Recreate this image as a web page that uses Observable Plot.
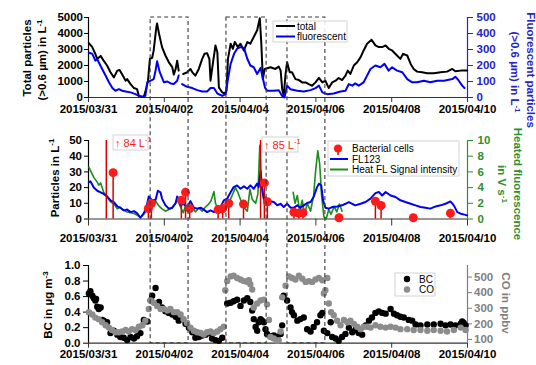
<!DOCTYPE html>
<html><head><meta charset="utf-8">
<script src="https://cdn.jsdelivr.net/npm/d3@7"></script>
<script src="https://cdn.jsdelivr.net/npm/@observablehq/plot@0.6"></script>
<style>
body{margin:0;background:#fff;}
#fig{position:relative;width:536px;height:365px;overflow:hidden;}
#fig svg{position:absolute;left:0;}
</style></head><body><div id="fig"></div>
<script>
// ---------- DATA (time = days since 2015/03/31 00:00) ----------
const tickDays = [0, 2, 4, 6, 8, 10];
const boxSpans = [[1.64, 2.64], [3.64, 4.70], [5.25, 6.25]];

// top panel
const totalSeries = [[0.01,3400],[0.10,3150],[0.18,2730],[0.23,2400],[0.32,2600],[0.40,2300],[0.49,2000],[0.58,1575],[0.67,1260],[0.76,1680],[0.82,1720],[0.89,1430],[0.98,1050],[1.02,1150],[1.11,840],[1.20,590],[1.28,525],[1.33,100],[1.46,40],[1.52,525],[1.57,1050],[1.62,2415],[1.68,2480],[1.72,2940],[1.79,4400],[1.81,4620],[1.86,4000],[1.94,3150],[2.03,2625],[2.12,2200],[2.21,1900],[2.25,1430],[2.30,1785],[2.34,2300],[2.38,1680],[2.44,null],[2.50,1470],[2.60,1575],[2.69,1785],[2.74,1575],[2.82,1365],[2.91,1785],[3.00,2415],[3.06,2730],[3.13,2770],[3.19,2400],[3.22,1050],[3.28,2100],[3.35,3250],[3.40,2830],[3.44,630],[3.53,315],[3.59,250],[3.64,420],[3.68,2415],[3.75,3360],[3.81,3045],[3.86,3465],[3.94,3150],[4.01,3360],[4.10,2940],[4.19,3465],[4.27,3360],[4.36,3780],[4.45,4200],[4.52,4950],[4.56,3360],[4.60,1150],[4.65,1785],[4.80,1890],[4.93,1785],[5.02,1930],[5.07,1680],[5.11,525],[5.15,100],[5.20,1470],[5.24,2205],[5.31,1575],[5.37,1575],[5.46,1150],[5.55,1090],[5.64,945],[5.73,945],[5.81,840],[5.90,735],[5.99,945],[6.08,1220],[6.17,945],[6.25,1050],[6.34,590],[6.43,945],[6.52,1050],[6.60,1220],[6.69,1090],[6.78,1365],[6.84,1680],[6.91,1470],[7.00,2000],[7.09,2205],[7.18,2520],[7.26,2940],[7.35,3360],[7.47,3610],[7.57,3255],[7.66,3150],[7.75,3150],[7.84,3255],[7.92,3045],[8.01,2940],[8.14,2625],[8.23,2415],[8.30,2730],[8.41,2625],[8.50,2100],[8.58,1785],[8.67,1617],[8.80,1575],[8.94,1510],[9.11,1510],[9.29,1575],[9.46,1617],[9.60,1785],[9.68,1640],[9.82,1680],[9.99,1680]];
const fluorSeries = [[0.01,280],[0.10,273],[0.14,252],[0.18,230],[0.23,240],[0.27,220],[0.36,178],[0.45,137],[0.54,95],[0.63,59],[0.71,42],[0.80,52],[0.89,42],[0.98,38],[1.11,32],[1.24,21],[1.33,10],[1.42,4],[1.50,10],[1.55,95],[1.64,105],[1.72,115],[1.77,168],[1.81,227],[1.88,158],[1.99,95],[2.08,100],[2.17,88],[2.25,84],[2.34,105],[2.38,137],[2.42,null],[2.47,84],[2.60,67],[2.74,59],[2.87,46],[3.00,38],[3.13,38],[3.22,59],[3.31,59],[3.40,25],[3.53,10],[3.62,21],[3.68,115],[3.75,210],[3.84,273],[3.92,305],[4.01,315],[4.10,310],[4.19,242],[4.27,200],[4.36,189],[4.45,147],[4.54,185],[4.60,120],[4.66,60],[4.72,42],[4.89,42],[5.02,46],[5.11,10],[5.17,0],[5.24,74],[5.33,52],[5.51,42],[5.68,38],[5.86,46],[5.99,59],[6.08,74],[6.17,32],[6.30,21],[6.47,25],[6.65,38],[6.78,42],[6.87,84],[6.96,74],[7.04,88],[7.13,74],[7.26,95],[7.35,137],[7.44,178],[7.57,200],[7.70,189],[7.81,210],[7.92,168],[8.01,189],[8.14,168],[8.28,158],[8.41,115],[8.54,95],[8.67,95],[8.85,105],[9.02,95],[9.20,105],[9.38,105],[9.60,115],[9.68,130],[9.77,105],[9.86,74],[9.92,59]];

// middle panel
const fl123Series = [[0.01,23.5],[0.05,24],[0.14,20],[0.23,18],[0.32,17],[0.40,16],[0.49,14.4],[0.58,11.9],[0.67,10.8],[0.76,8],[0.84,7.2],[0.93,5.5],[1.02,6],[1.11,4.4],[1.20,5],[1.28,3.8],[1.37,0.8],[1.46,3.8],[1.53,7.6],[1.59,14.4],[1.68,11.9],[1.77,12.3],[1.83,18],[1.90,17],[1.94,13],[2.03,8.7],[2.12,6.6],[2.21,7.2],[2.30,10.2],[2.34,14.4],[2.43,8.7],[2.51,9.7],[2.60,7.2],[2.69,11.4],[2.78,7.2],[2.87,6.6],[2.96,7.2],[3.04,6],[3.13,4.4],[3.22,5.5],[3.31,4.4],[3.40,7.2],[3.48,7.2],[3.57,11.9],[3.66,13],[3.75,17],[3.83,20.3],[3.92,21.4],[4.01,19.3],[4.10,20.8],[4.19,19.3],[4.27,21.4],[4.36,19.3],[4.45,22.5],[4.49,20.3],[4.54,30.5],[4.58,20.3],[4.63,12],[4.71,11],[4.76,11.4],[4.89,10.8],[4.98,8.7],[5.07,9.7],[5.15,7.6],[5.24,9.7],[5.33,7.2],[5.42,7.2],[5.51,8.7],[5.59,7.2],[5.68,8.7],[5.77,10.2],[5.86,10.8],[5.94,14],[6.03,20.3],[6.08,22.5],[6.14,21.4],[6.19,11.9],[6.25,7.2],[6.34,6.6],[6.43,7.6],[6.56,8],[6.69,8.7],[6.78,9.7],[6.87,10.8],[6.96,9.7],[7.04,8.7],[7.18,9.7],[7.31,10.8],[7.44,13],[7.57,16.5],[7.66,17.2],[7.75,15],[7.84,17.2],[7.97,15],[8.10,14],[8.23,11.9],[8.36,10.8],[8.50,9.7],[8.63,8.7],[8.76,7.6],[8.89,7.2],[9.02,6.6],[9.16,8],[9.29,8.7],[9.42,9.7],[9.55,11.2],[9.64,8.7],[9.73,4.4],[9.82,3.4],[9.92,2.8],[9.99,2.3]];
const heatSeries = [[0.01,6.6],[0.05,6.2],[0.14,5.3],[0.23,4.7],[0.27,4.3],[0.32,4.6],[0.40,3.4],[0.49,2.8],[0.58,2.2],[0.67,1.9],[0.76,1.3],[0.84,1.5],[0.93,1.1],[1.02,0.9],[1.11,0.8],[1.20,0.7],[1.28,0.5],[1.37,0.2],[1.46,0.6],[1.53,1.1],[1.59,1.9],[1.68,1.5],[1.77,2.3],[1.85,1.7],[1.94,1.3],[2.03,1.0],[2.12,1.2],[2.21,1.4],[2.30,2.0],[2.34,2.6],[2.43,1.5],[2.50,0.8],[2.57,1.8],[2.65,1.2],[2.74,1.6],[2.82,0.9],[2.91,1.4],[3.00,1.0],[3.08,1.5],[3.17,1.9],[3.23,2.3],[3.31,3.5],[3.35,2.0],[3.44,1.0],[3.53,0.8],[3.62,1.2],[3.70,2.0],[3.79,3.0],[3.88,4.0],[3.94,3.4],[4.01,2.5],[4.10,1.5],[4.19,1.0],[4.26,3.8],[4.32,2.5],[4.41,2.0],[4.47,3.2],[4.52,9.4],[4.56,4.0],[4.63,2.4],[4.67,2.8],[4.71,2.1],[4.74,null],[5.40,3.4],[5.45,2.0],[5.51,3.0],[5.57,1.0],[5.64,2.4],[5.70,0.5],[5.77,2.0],[5.86,1.0],[5.94,3.0],[5.99,6.0],[6.05,8.7],[6.10,7.0],[6.15,3.0],[6.21,0.3],[6.27,0],[6.34,1.2],[6.40,0.6],[6.48,1.6],[6.55,0.9],[6.62,1.9],[6.69,1.0]];
const bacteriaSeries = [[0.47,84],[0.65,29.5],[1.58,6.7],[1.66,10],[2.45,12],[2.56,17],[2.67,6.7],[3.42,6],[3.54,6.7],[3.70,10],[4.09,9.5],[4.54,85],[4.64,23],[4.72,11],[5.42,4.3],[5.55,3.7],[5.66,4],[6.61,0.8],[7.57,11.3],[7.72,8.6],[8.57,0.8],[9.55,3.7]];

// bottom panel
const bcSeries = [[0.01,0.64],[0.05,0.67],[0.10,0.61],[0.14,0.58],[0.18,0.55],[0.20,0.57],[0.23,0.47],[0.27,0.44],[0.32,0.46],[0.36,0.30],[0.40,0.29],[0.49,0.27],[0.58,0.13],[0.67,0.16],[0.76,0.11],[0.84,0.08],[0.93,0.07],[1.02,0.04],[1.11,0.08],[1.20,0.06],[1.28,0.09],[1.37,0.13],[1.46,0.30],[1.55,0.28],[1.64,0.55],[1.68,0.61],[1.77,0.71],[1.86,0.53],[1.94,0.46],[2.03,0.41],[2.12,0.39],[2.21,0.37],[2.30,0.34],[2.38,0.29],[2.47,0.31],[2.56,0.25],[2.65,0.20],[2.74,0.14],[2.82,0.07],[2.91,0.08],[3.00,0.10],[3.09,0.11],[3.17,0.13],[3.26,0.06],[3.35,0.04],[3.44,0.03],[3.53,0.07],[3.66,0.51],[3.75,0.52],[3.83,0.54],[3.92,0.56],[4.01,0.48],[4.10,0.55],[4.19,0.58],[4.27,0.53],[4.32,0.42],[4.36,0.31],[4.41,0.21],[4.45,0.16],[4.49,0.27],[4.54,0.31],[4.58,0.29],[4.63,0.27],[4.67,0.18],[4.71,0.12],[4.80,0.09],[4.89,0.10],[4.98,0.08],[5.07,0.12],[5.11,0.23],[5.15,0.61],[5.24,0.55],[5.33,0.46],[5.37,0.40],[5.42,0.36],[5.51,0.29],[5.59,0.31],[5.68,0.33],[5.77,0.18],[5.86,0.15],[5.94,0.21],[6.03,0.27],[6.12,0.36],[6.17,0.39],[6.21,0.16],[6.30,0.13],[6.39,0.27],[6.43,0.08],[6.52,0.06],[6.60,0.03],[6.69,0.08],[6.78,0.12],[6.87,0.20],[6.96,0.14],[7.04,0.17],[7.13,0.13],[7.22,0.11],[7.31,0.23],[7.40,0.29],[7.48,0.33],[7.57,0.39],[7.66,0.41],[7.75,0.39],[7.84,0.38],[7.97,0.44],[8.06,0.38],[8.14,0.36],[8.23,0.34],[8.32,0.33],[8.45,0.30],[8.54,0.29],[8.63,0.24],[8.76,0.23],[8.94,0.24],[9.11,0.24],[9.29,0.25],[9.42,0.23],[9.55,0.24],[9.68,0.23],[9.82,0.25],[9.86,0.28],[9.90,0.26],[9.95,0.23]];
const coSeries = [[0.01,275],[0.10,260],[0.18,240],[0.27,230],[0.36,210],[0.45,191],[0.54,176],[0.62,161],[0.71,146],[0.80,146],[0.89,151],[0.98,161],[1.06,151],[1.15,166],[1.24,161],[1.33,181],[1.42,191],[1.50,220],[1.59,295],[1.64,350],[1.72,335],[1.81,315],[1.90,295],[1.99,295],[2.08,285],[2.16,295],[2.25,275],[2.34,275],[2.43,260],[2.51,230],[2.60,205],[2.69,176],[2.78,156],[2.87,146],[2.96,141],[3.04,131],[3.13,146],[3.22,151],[3.31,141],[3.40,151],[3.48,166],[3.57,181],[3.61,415],[3.66,474],[3.75,504],[3.83,509],[3.92,494],[4.01,484],[4.10,474],[4.19,469],[4.23,479],[4.27,454],[4.32,420],[4.36,305],[4.45,330],[4.54,350],[4.63,355],[4.71,325],[4.76,225],[4.80,116],[4.89,106],[4.98,91],[5.02,96],[5.07,151],[5.11,370],[5.20,445],[5.29,504],[5.37,494],[5.46,484],[5.55,509],[5.64,489],[5.73,469],[5.81,474],[5.90,469],[5.99,484],[6.08,494],[6.17,479],[6.21,395],[6.25,415],[6.30,494],[6.34,330],[6.40,275],[6.47,255],[6.56,220],[6.65,191],[6.74,225],[6.83,210],[6.91,220],[7.00,200],[7.09,181],[7.18,166],[7.26,181],[7.35,181],[7.44,176],[7.57,191],[7.70,181],[7.84,176],[7.97,181],[8.10,176],[8.23,166],[8.41,166],[8.58,161],[8.76,161],[8.94,156],[9.11,161],[9.29,156],[9.46,151],[9.64,161],[9.82,176],[9.95,161]];

const topTicks = [0, 1000, 2000, 3000, 4000, 5000];
const midTicks = [0, 10, 20, 30, 40, 50];
const bcTicks = [0, 0.2, 0.4, 0.6, 0.8, 1.0];
const coTicks = [100, 200, 300, 400, 500];

// ---------- helpers ----------
const DAY0 = Date.UTC(2015, 2, 31);
const toDate = d => new Date(DAY0 + d * 86400000);
const fmt = d3.utcFormat("%Y/%m/%d");
const X_DOMAIN = [toDate(0), toDate(10)];
const tickDates = tickDays.map(toDate);
const FL_FACTOR = 10;     // right axis (fluorescent) -> left units
const HEAT_FACTOR = 5;    // right axis (V s-1) -> left units
const CO_MIN = 76, CO_MAX = 574; // CO range mapped onto BC 0..1
const coToY = c => (c - CO_MIN) / (CO_MAX - CO_MIN);
const num = v => (v == null ? NaN : v);
const plain = d3.format("d");

const FONT = "'Liberation Sans', Arial, Helvetica, sans-serif";
const BLUE = "#0000f0", BLUE_AX = "#2424c8";
const GREEN = "#1c8c1c", GREEN_AX = "#2f8f2f";
const RED = "#ff1a1a", STEM = "#d40000";
const GRAY = "#8c8c8c", GRAY_AX = "#7f7f7f";
const AXC = "#333";

const style = `font-family:${FONT};font-size:11.5px;font-weight:bold;background:transparent;overflow:visible;`;
function base(height, mt, mb) {
  return {width: 536, height, marginLeft: 88, marginRight: 69, marginTop: mt, marginBottom: mb,
    x: {type: "utc", domain: X_DOMAIN}, style};
}
const xAxis = (ts, tp) => Plot.axisX({ticks: tickDates, tickFormat: fmt, tickSize: ts, tickPadding: tp, label: null, stroke: AXC, fill: "#000"});

// ---------- panel 1 ----------
const p1 = Plot.plot({
  ...base(120, 17, 23),
  y: {domain: [0, 5000]},
  marks: [
    xAxis(5, 2),
    Plot.axisY({ticks: topTicks, tickFormat: plain, tickSize: 4, tickPadding: 1.5, label: null, stroke: "#000", fill: "#000"}),
    Plot.axisY({anchor: "right", ticks: topTicks, tickFormat: d => plain(d / FL_FACTOR), tickSize: 5, tickPadding: 4, label: null, stroke: BLUE_AX, fill: BLUE_AX}),
    Plot.ruleY([0], {stroke: AXC, strokeWidth: 1.2}),
    Plot.ruleX([X_DOMAIN[0]], {y1: 0, y2: 5000, stroke: "#000", strokeWidth: 1.2}),
    Plot.ruleX([X_DOMAIN[1]], {y1: 0, y2: 5000, stroke: BLUE_AX, strokeWidth: 1.2}),
    Plot.line(totalSeries, {x: d => toDate(d[0]), y: d => num(d[1]), stroke: "#000", strokeWidth: 2}),
    Plot.line(fluorSeries, {x: d => toDate(d[0]), y: d => d[1] == null ? NaN : d[1] * FL_FACTOR, stroke: BLUE, strokeWidth: 2})
  ]
});

// ---------- panel 2 ----------
const p2 = Plot.plot({
  ...base(125, 20, 26.5),
  y: {domain: [0, 50]},
  marks: [
    xAxis(7, 8),
    Plot.axisY({ticks: midTicks, tickFormat: plain, tickSize: 4, tickPadding: 2.5, label: null, stroke: "#000", fill: "#000"}),
    Plot.axisY({anchor: "right", ticks: midTicks, tickFormat: d => plain(d / HEAT_FACTOR), tickSize: 5, tickPadding: 5, label: null, stroke: GREEN_AX, fill: GREEN_AX}),
    Plot.ruleY([0], {stroke: AXC, strokeWidth: 1.2}),
    Plot.ruleX([X_DOMAIN[0]], {y1: 0, y2: 50, stroke: "#000", strokeWidth: 1.2}),
    Plot.ruleX([X_DOMAIN[1]], {y1: 0, y2: 50, stroke: GREEN_AX, strokeWidth: 1.2}),
    Plot.line(heatSeries, {x: d => toDate(d[0]), y: d => d[1] == null ? NaN : d[1] * HEAT_FACTOR, stroke: GREEN, strokeWidth: 1.6}),
    Plot.line(fl123Series, {x: d => toDate(d[0]), y: d => d[1], stroke: BLUE, strokeWidth: 2}),
    Plot.ruleX(bacteriaSeries, {x: d => toDate(d[0]), y1: 0, y2: d => Math.min(d[1], 50), stroke: STEM, strokeWidth: 1.5}),
    Plot.dot(bacteriaSeries.filter(d => d[1] <= 50), {x: d => toDate(d[0]), y: d => d[1], r: 4.5, fill: RED, stroke: "none"})
  ]
});

// ---------- panel 3 ----------
const p3 = Plot.plot({
  ...base(120, 20, 22.3),
  y: {domain: [0, 1]},
  marks: [
    xAxis(5, 2),
    Plot.axisY({ticks: bcTicks, tickFormat: d3.format(".1f"), tickSize: 5, tickPadding: 3, label: null, stroke: "#000", fill: "#000"}),
    Plot.axisY({anchor: "right", ticks: coTicks.map(coToY), tickFormat: v => Math.round(CO_MIN + v * (CO_MAX - CO_MIN)), tickSize: 4, tickPadding: 2.5, label: null, stroke: GRAY_AX, fill: GRAY_AX}),
    Plot.ruleY([0], {stroke: AXC, strokeWidth: 1.2}),
    Plot.ruleX([X_DOMAIN[0]], {y1: 0, y2: 1, stroke: "#000", strokeWidth: 1.2}),
    Plot.ruleX([X_DOMAIN[1]], {y1: 0, y2: 1, stroke: GRAY_AX, strokeWidth: 1.2}),
    Plot.dot(bcSeries, {x: d => toDate(d[0]), y: d => d[1], r: 3.2, fill: "#000", stroke: "none"}),
    Plot.dot(coSeries, {x: d => toDate(d[0]), y: d => coToY(d[1]), r: 3.2, fill: GRAY, stroke: "none"})
  ]
});

const fig = document.getElementById("fig");
const tops = [0, 120, 245];
[p1, p2, p3].forEach((p, i) => { p.style.top = tops[i] + "px"; fig.appendChild(p); });

// ---------- overlay: titles, legends, annotations, dashed boxes ----------
const ov = d3.select(fig).append("svg")
  .attr("width", 536).attr("height", 365)
  .style("top", "0px").style("font-family", FONT);

function rotTitle(x, y, angle, parts, color) {
  const t = ov.append("text")
    .attr("transform", `translate(${x},${y}) rotate(${angle})`)
    .attr("text-anchor", "middle").attr("fill", color)
    .attr("font-weight", "bold").attr("font-size", 11.5);
  parts.forEach(p => {
    if (p.sup) t.append("tspan").attr("font-size", 8).attr("dy", -4.5).text(p.t);
    else t.append("tspan").text(p.t);
  });
}
rotTitle(31, 58, -90, [{t: "Total particles"}], "#000");
rotTitle(46, 60, -90, [{t: "(>0.6 µm) in L"}, {t: "-1", sup: true}], "#000");
rotTitle(527, 70, 90, [{t: "Fluorescent particles"}], BLUE_AX);
rotTitle(510.5, 72, 90, [{t: "(>0.6 µm) in L"}, {t: "-1", sup: true}], BLUE_AX);
rotTitle(58.5, 178, -90, [{t: "Particles in L"}, {t: "-1", sup: true}], "#000");
rotTitle(514, 184, 90, [{t: "Heated fluorescence"}], GREEN_AX);
rotTitle(497.5, 184, 90, [{t: "in V s"}, {t: "-1", sup: true}], GREEN_AX);
rotTitle(52, 305, -90, [{t: "BC in µg m"}, {t: "-3", sup: true}], "#000");
rotTitle(502, 303, 90, [{t: "CO in ppbv"}], GRAY_AX);

// dashed event boxes, positioned with the panels' own scales
const xs = p1.scale("x");
const yTop = tops[0] + p1.scale("y").apply(5000);
const yBot = tops[2] + p3.scale("y").apply(0);
boxSpans.forEach(([a, b]) => {
  ov.append("rect")
    .attr("x", xs.apply(toDate(a))).attr("y", yTop)
    .attr("width", xs.apply(toDate(b)) - xs.apply(toDate(a))).attr("height", yBot - yTop)
    .attr("fill", "none").attr("stroke", "#3a3a3a").attr("stroke-width", 1.1)
    .attr("stroke-dasharray", "4,3");
});

// legend helper
function legendBox(x, y, w, h) {
  ov.append("rect").attr("x", x).attr("y", y).attr("width", w).attr("height", h)
    .attr("fill", "#fff").attr("fill-opacity", 0.85).attr("stroke", "#c8c8c8").attr("stroke-width", 0.8);
}
function legText(x, y, s) {
  ov.append("text").attr("x", x).attr("y", y).attr("dy", "0.35em")
    .attr("font-size", 10).attr("fill", "#000").text(s);
}
// top legend
legendBox(273, 21, 74, 21);
ov.append("line").attr("x1", 276).attr("x2", 295).attr("y1", 26).attr("y2", 26).attr("stroke", "#000").attr("stroke-width", 2);
legText(297, 26, "total");
ov.append("line").attr("x1", 276).attr("x2", 295).attr("y1", 36.5).attr("y2", 36.5).attr("stroke", BLUE).attr("stroke-width", 2);
legText(297, 36.5, "fluorescent");

// middle legend
legendBox(328, 141, 131, 35);
ov.append("line").attr("x1", 338).attr("x2", 338).attr("y1", 148.5).attr("y2", 155).attr("stroke", STEM).attr("stroke-width", 1.5);
ov.append("circle").attr("cx", 338).attr("cy", 148.5).attr("r", 4).attr("fill", RED);
legText(352, 148.5, "Bacterial cells");
ov.append("line").attr("x1", 330).attr("x2", 348).attr("y1", 159).attr("y2", 159).attr("stroke", BLUE).attr("stroke-width", 2);
legText(352, 159, "FL123");
ov.append("line").attr("x1", 330).attr("x2", 348).attr("y1", 169.5).attr("y2", 169.5).attr("stroke", GREEN).attr("stroke-width", 2);
legText(352, 169.5, "Heat FL Signal intensity");

// bottom legend
legendBox(395, 273, 40, 23);
ov.append("circle").attr("cx", 407).attr("cy", 279).attr("r", 3.2).attr("fill", "#000");
legText(419, 279, "BC");
ov.append("circle").attr("cx", 407).attr("cy", 289.5).attr("r", 3.2).attr("fill", GRAY);
legText(419, 289.5, "CO");

// off-scale annotations
function offScale(x, y, w, label) {
  ov.append("rect").attr("x", x).attr("y", y).attr("width", w).attr("height", 15)
    .attr("fill", "#fff").attr("stroke", "#c8c8c8").attr("stroke-width", 0.8);
  const t = ov.append("text").attr("x", x + 2).attr("y", y + 11.5).attr("font-size", 11).attr("fill", RED);
  t.append("tspan").text("↑ " + label + " L");
  t.append("tspan").attr("font-size", 7.5).attr("dy", -4.5).text("-1");
}
offScale(113, 135, 35, "84");
offScale(262, 137, 36, "85");
</script>
</body></html>
